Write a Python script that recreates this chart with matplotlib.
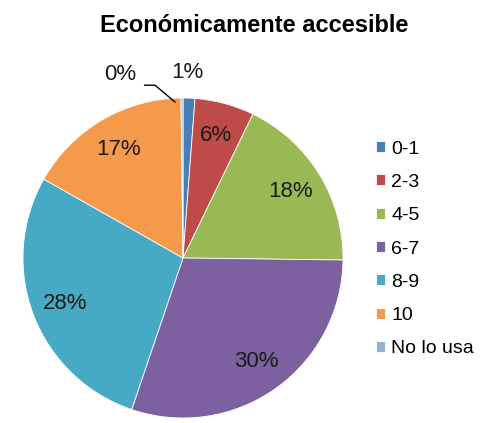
import matplotlib
matplotlib.use("Agg")
import matplotlib.pyplot as plt

plt.rcParams['font.family'] = ['Liberation Sans', 'DejaVu Sans']

title = "Económicamente accesible"
categories = ["0-1", "2-3", "4-5", "6-7", "8-9", "10", "No lo usa"]
values = [1.2, 6.0, 18.0, 30.0, 28.0, 16.6, 0.2]
colors = ["#4A7EBB", "#BE4B48", "#98B954", "#7D60A0", "#46AAC5", "#F59A4A", "#95B3D7"]

fig = plt.figure(figsize=(4.86, 4.23), dpi=100)
W, H = 486, 423
cx, cy, R = 183, 258, 160
ax = fig.add_axes([(cx - R) / W, (H - cy - R) / H, 2 * R / W, 2 * R / H])

wedges, texts, autotexts = ax.pie(
    values, colors=colors, startangle=90, counterclock=False,
    autopct=lambda p: f"{round(p)}%", pctdistance=0.79,
    wedgeprops=dict(edgecolor="white", linewidth=0.6),
    textprops=dict(fontsize=16, color="#1a1a1a"))
ax.set_xlim(-1, 1)
ax.set_ylim(-1, 1)
ax.set_aspect('equal')
ax.axis('off')

# small slices labels outside
autotexts[0].set_position((0.03, 1.16))
autotexts[6].set_position((-0.39, 1.15))
ax.plot([-0.24, -0.175, -0.05], [1.08, 1.08, 0.975], color="black",
        lw=1.0, clip_on=False)

fig.text(254 / W, 1 - 25 / H, title, ha="center", va="center",
         fontsize=17, fontweight="bold")

leg = fig.legend(wedges, categories, loc="upper left",
                 bbox_to_anchor=(358 / W, 1 - 123 / H), frameon=False,
                 fontsize=14, handlelength=0.5, handleheight=0.5,
                 handletextpad=0.3, labelspacing=0.84)

fig.savefig("out.png", dpi=100)
